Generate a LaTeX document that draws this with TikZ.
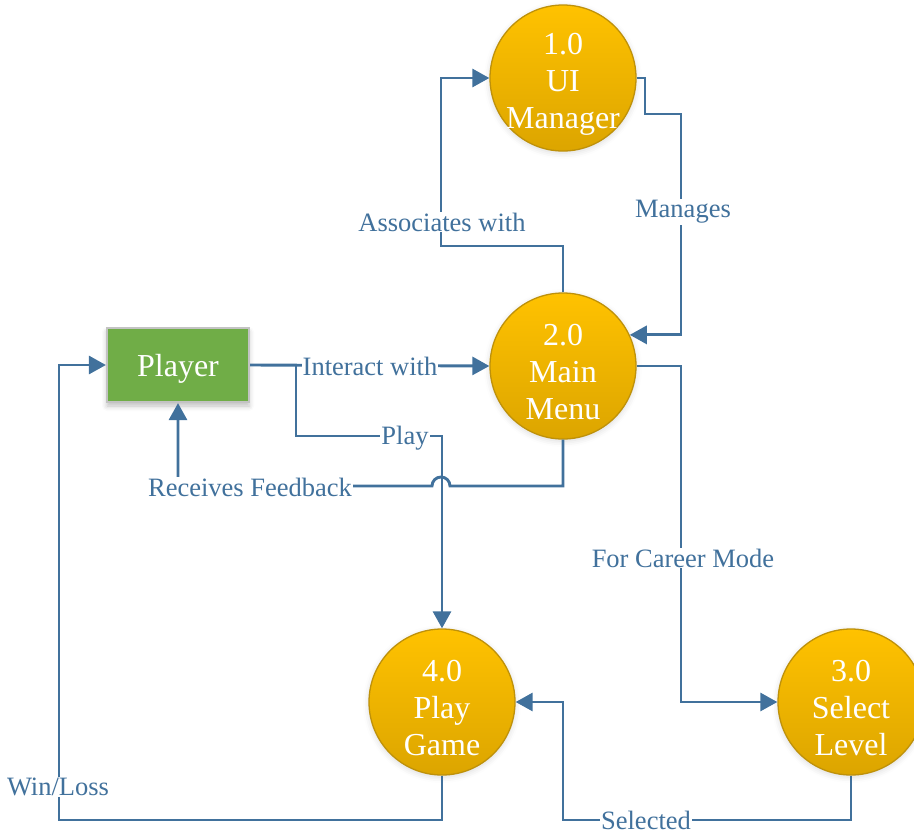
\documentclass[tikz,border=0pt]{standalone}
\usepackage{fontspec}
\setmainfont{Liberation Serif}
\usetikzlibrary{arrows.meta,shadows.blur}

\definecolor{flowblue}{RGB}{65,113,156}
\definecolor{goldtop}{RGB}{255,194,0}
\definecolor{goldbot}{RGB}{220,165,0}
\definecolor{goldedge}{RGB}{190,145,10}
\definecolor{actorgreen}{RGB}{112,173,71}
\definecolor{actoredge}{RGB}{195,195,195}

\tikzset{
  proc/.style={circle, minimum size=146pt, inner sep=0pt,
    draw=goldedge, line width=1.3pt,
    top color=goldtop, bottom color=goldbot,
    blur shadow={shadow xshift=0pt, shadow yshift=-2pt,
      shadow blur radius=6pt, shadow opacity=15},
    label={[proctext]center:#1}},
  proctext/.style={text=white, align=center, inner sep=0pt,
    font=\fontsize{32}{37}\selectfont, yshift=-6.5pt},
  actor/.style={rectangle, minimum width=142pt, minimum height=74pt,
    fill=actorgreen, draw=actoredge, line width=2.2pt,
    text=white, font=\fontsize{32}{37}\selectfont, text depth=0pt,
    blur shadow={shadow xshift=0pt, shadow yshift=-4pt,
      shadow blur radius=5pt, shadow opacity=25}},
  flow/.style={draw=flowblue, line width=2.9pt,
    -{Triangle[length=17pt,width=18pt]}},
  flowlabel/.style={fill=white, text=flowblue, inner sep=1pt,
    font=\fontsize{26.5}{30}\selectfont}
}

\begin{document}
\begin{tikzpicture}[x=1pt,y=-1pt]
\useasboundingbox (0,0) rectangle (914,833);
\clip (0,0) rectangle (914,833);

% external entity and processes
\node[actor] (P)  at (178,365) {Player};
\node[proc={1.0\\UI\\Manager}]  (C1) at (563,78)  {};
\node[proc={2.0\\Main\\Menu}]   (C2) at (563,366) {};
\node[proc={3.0\\Select\\Level}] (C3) at (851,702) {};
\node[proc={4.0\\Play\\Game}]   (C4) at (442,702) {};

% bend column on the right
\coordinate (colM) at (681,0);

% data flows
\draw[flow] (P.east) -- (C2.west);
\draw[flow] (C2.north) |- (441,246) |- (C1.west);
\draw[flow] (C1.east) -| (645,114) -| (colM |- C2.25) -- (C2.25);
\draw[flow] (C2.east) -| (colM |- C3.west) -- (C3.west);
\draw[flow] (P.east) -| (296,436) -| (C4.north);
\draw[flow] (C2.south) |- (450,486)
  arc[start angle=0, end angle=180, radius=9pt]
  -| (P.south);
\draw[flow] (C4.south) |- (59,820) |- (P.west);
\draw[flow] (C3.south) |- (563,820) |- (C4.east);

% flow labels
\node[flowlabel] (lInteract) at (370,366) {Interact with};
\node[flowlabel] (lAssoc)    at (442,222) {Associates with};
\node[flowlabel] (lManages)  at (683,212) {Manages};
\node[flowlabel] (lCareer)   at (683,558) {For Career Mode};
\node[flowlabel] (lPlay)     at (405,438) {Play};
\node[flowlabel] (lFeedback) at (250,487) {Receives Feedback};
\node[flowlabel] (lWin)      at (58,787)  {Win/Loss};
\node[flowlabel] (lSelected) at (646,820) {Selected};
\end{tikzpicture}
\end{document}
